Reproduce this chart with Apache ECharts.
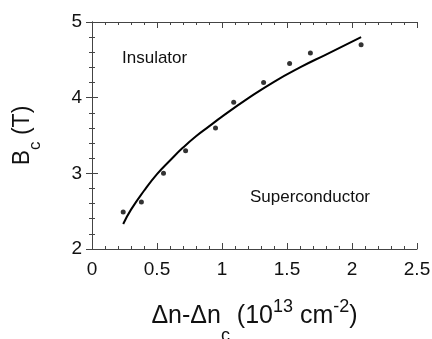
<!DOCTYPE html>
<html>
<head>
<meta charset="utf-8">
<script src="https://cdn.jsdelivr.net/npm/echarts@6/dist/echarts.min.js"></script>
<style>
  html, body { margin: 0; padding: 0; background: #fff; }
  #chart { width: 432px; height: 339px; }
</style>
</head>
<body>
<div id="chart"></div>
<script>
// measured points
const pointX = [0.24, 0.38, 0.55, 0.72, 0.95, 1.09, 1.32, 1.52, 1.68, 2.07]
const pointY = [2.49, 2.62, 3.0, 3.30, 3.60, 3.94, 4.20, 4.45, 4.59, 4.70]
// fit curve
const fitX = [0.24, 0.3, 0.4, 0.5, 0.6, 0.7, 0.8, 0.9, 1.0, 1.2, 1.4, 1.6, 1.8, 2.07]
const fitY = [2.33, 2.52, 2.77, 2.99, 3.17, 3.34, 3.49, 3.62, 3.75, 3.99, 4.21, 4.40, 4.57, 4.80]
const xTicks = [0, 0.5, 1, 1.5, 2, 2.5]
const yTicks = [2, 3, 4, 5]

const font = 'Liberation Sans, Arial, sans-serif'
const frameColor = '#444'

const chart = echarts.init(document.getElementById('chart'))

const xBase = {
  type: 'value',
  min: xTicks[0],
  max: xTicks[xTicks.length - 1],
  interval: 0.5,
  axisLine: { show: true, lineStyle: { color: frameColor, width: 1 } },
  axisTick: { show: true, inside: true, length: 6, lineStyle: { color: frameColor } },
  minorTick: { show: true, splitNumber: 5, length: 3, lineStyle: { color: frameColor } },
  splitLine: { show: false }
}
const yBase = {
  type: 'value',
  min: yTicks[0],
  max: yTicks[yTicks.length - 1],
  interval: 1,
  axisLine: { show: true, lineStyle: { color: frameColor, width: 1 } },
  axisTick: { show: true, inside: true, length: 6, lineStyle: { color: frameColor } },
  minorTick: { show: true, splitNumber: 5, length: 3, lineStyle: { color: frameColor } },
  splitLine: { show: false }
}

chart.setOption({
  animation: false,
  grid: { left: 92, right: 15, top: 22, bottom: 90, outerBoundsMode: 'none', containLabel: false },
  xAxis: [{
    ...xBase,
    position: 'bottom',
    axisLabel: { color: '#111', fontSize: 19, fontFamily: font, margin: 11 },
    name: 'Δn-Δn{sub|c} (10{sup|13} cm{sup|-2})',
    nameLocation: 'middle',
    nameGap: 38,
    nameTextStyle: {
      color: '#111', fontSize: 25, fontFamily: font,
      rich: {
        sub: { fontSize: 18, fontFamily: font, color: '#111', padding: [40, 0, 0, 0] },
        sup: { fontSize: 18, fontFamily: font, color: '#111', padding: [0, 0, 18, 0] }
      }
    }
  }, {
    ...xBase,
    position: 'top',
    axisLabel: { show: false }
  }],
  yAxis: [{
    ...yBase,
    position: 'left',
    axisLabel: { color: '#111', fontSize: 19, fontFamily: font, margin: 10 },
    name: 'B{sub|c} (T)',
    nameLocation: 'middle',
    nameGap: 48,
    nameTextStyle: {
      color: '#111', fontSize: 23, fontFamily: font,
      rich: {
        sub: { fontSize: 17, fontFamily: font, color: '#111', padding: [26, 0, 0, 0] }
      }
    }
  }, {
    ...yBase,
    position: 'right',
    axisLabel: { show: false }
  }],
  graphic: [{
    type: 'text', left: 122, top: 50,
    style: { text: 'Insulator', fontSize: 17, fontFamily: font, fill: '#111' }
  }, {
    type: 'text', left: 250, top: 189,
    style: { text: 'Superconductor', fontSize: 17, fontFamily: font, fill: '#111' }
  }],
  series: [{
    type: 'line',
    data: fitX.map((x, i) => [x, fitY[i]]),
    smooth: true,
    showSymbol: false,
    lineStyle: { color: '#000', width: 2 }
  }, {
    type: 'scatter',
    data: pointX.map((x, i) => [x, pointY[i]]),
    symbolSize: 5,
    itemStyle: { color: '#000' }
  }]
})
window.addEventListener('resize', () => { chart.resize() })
</script>
</body>
</html>
